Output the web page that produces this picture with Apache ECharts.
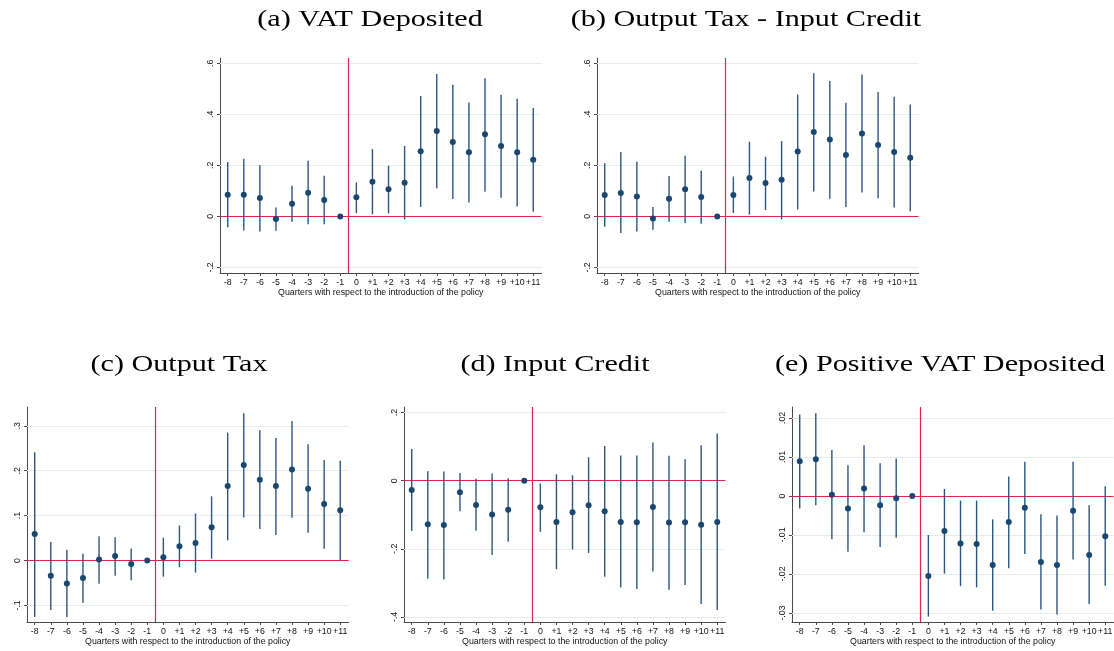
<!DOCTYPE html>
<html><head><meta charset="utf-8">
<script src="https://cdn.jsdelivr.net/npm/echarts@6/dist/echarts.min.js"></script>
<style>html,body{margin:0;padding:0;background:#fff}#c{width:1114px;height:651px}</style>
</head><body><div id="c"></div><script>
// ---- data ----
const quarters = [-8,-7,-6,-5,-4,-3,-2,-1,0,1,2,3,4,5,6,7,8,9,10,11];
const quarterLabels = ['-8','-7','-6','-5','-4','-3','-2','-1','0','+1','+2','+3','+4','+5','+6','+7','+8','+9','+10','+11'];
const xAxisTitle = 'Quarters with respect to the introduction of the policy';

const titleA = '(a) VAT Deposited';
const coefA = [0.085,0.085,0.072,-0.010,0.050,0.093,0.064,0,0.075,0.136,0.106,0.132,0.255,0.335,0.292,0.251,0.322,0.276,0.251,0.222];
const loA   = [-0.043,-0.055,-0.059,-0.056,-0.021,-0.031,-0.031,0,0.013,0.008,0.012,-0.012,0.037,0.110,0.068,0.054,0.097,0.073,0.039,0.018];
const hiA   = [0.213,0.226,0.200,0.035,0.120,0.218,0.159,0,0.133,0.264,0.199,0.276,0.472,0.558,0.516,0.447,0.542,0.477,0.461,0.425];
const ticksA = [-0.2,0,0.2,0.4,0.6];
const tickLabelsA = ['-.2','0','.2','.4','.6'];

const titleB = '(b) Output Tax - Input Credit';
const coefB = [0.084,0.092,0.078,-0.008,0.069,0.106,0.076,0,0.084,0.150,0.131,0.144,0.254,0.331,0.301,0.241,0.325,0.280,0.252,0.230];
const loB   = [-0.041,-0.065,-0.059,-0.052,-0.021,-0.026,-0.029,0,0.013,0.007,0.025,-0.012,0.027,0.098,0.069,0.037,0.094,0.071,0.035,0.020];
const hiB   = [0.208,0.252,0.214,0.037,0.158,0.238,0.179,0,0.156,0.293,0.234,0.295,0.478,0.561,0.531,0.446,0.556,0.488,0.469,0.439];
const ticksB = [-0.2,0,0.2,0.4,0.6];
const tickLabelsB = ['-.2','0','.2','.4','.6'];

const titleC = '(c) Output Tax';
const coefC = [0.059,-0.034,-0.051,-0.039,0.002,0.010,-0.008,0,0.007,0.032,0.039,0.074,0.166,0.213,0.180,0.166,0.203,0.160,0.126,0.112];
const loC   = [-0.126,-0.110,-0.126,-0.094,-0.052,-0.034,-0.044,0,-0.036,-0.015,-0.027,0.004,0.045,0.096,0.070,0.057,0.095,0.062,0.026,0.000];
const hiC   = [0.241,0.041,0.024,0.015,0.054,0.052,0.027,0,0.051,0.078,0.105,0.143,0.285,0.328,0.290,0.273,0.311,0.259,0.224,0.222];
const ticksC = [-0.1,0,0.1,0.2,0.3];
const tickLabelsC = ['-.1','0','.1','.2','.3'];

const titleD = '(d) Input Credit';
const coefD = [-0.027,-0.128,-0.130,-0.034,-0.071,-0.099,-0.085,0,-0.078,-0.121,-0.093,-0.072,-0.090,-0.121,-0.122,-0.077,-0.123,-0.122,-0.129,-0.121];
const loD   = [-0.148,-0.287,-0.290,-0.090,-0.147,-0.218,-0.179,0,-0.150,-0.260,-0.202,-0.212,-0.282,-0.314,-0.318,-0.267,-0.320,-0.306,-0.362,-0.380];
const hiD   = [0.093,0.028,0.027,0.023,0.006,0.021,0.007,0,-0.008,0.019,0.016,0.069,0.102,0.074,0.074,0.112,0.073,0.063,0.104,0.139];
const ticksD = [-0.4,-0.2,0,0.2];
const tickLabelsD = ['-.4','-.2','0','.2'];

const titleE = '(e) Positive VAT Deposited';
const coefE = [0.0089,0.0094,0.0003,-0.0032,0.0019,-0.0024,-0.0006,0,-0.0205,-0.0090,-0.0122,-0.0123,-0.0177,-0.0067,-0.0030,-0.0169,-0.0177,-0.0038,-0.0151,-0.0103];
const loE   = [-0.0032,-0.0024,-0.0111,-0.0143,-0.0093,-0.0131,-0.0107,0,-0.0309,-0.0199,-0.0231,-0.0234,-0.0294,-0.0185,-0.0149,-0.0291,-0.0304,-0.0163,-0.0277,-0.0230];
const hiE   = [0.0209,0.0212,0.0118,0.0079,0.0130,0.0084,0.0096,0,-0.0100,0.0018,-0.0012,-0.0012,-0.0060,0.0050,0.0088,-0.0047,-0.0050,0.0088,-0.0024,0.0025];
const ticksE = [-0.03,-0.02,-0.01,0,0.01,0.02];
const tickLabelsE = ['-.03','-.02','-.01','0','.01','.02'];

// ---- layout / style ----
const NAVY = '#1a476f', RED = '#dc2850', GRID = '#e3ecee', AXIS = '#4a4a4a';
const panels = [
  {title:titleA, coef:coefA, lo:loA, hi:hiA, ticks:ticksA, labels:tickLabelsA, ymin:-0.222, ymax:0.621, g:{left:220, top:58}, tx:370, ty:20},
  {title:titleB, coef:coefB, lo:loB, hi:hiB, ticks:ticksB, labels:tickLabelsB, ymin:-0.222, ymax:0.621, g:{left:597, top:58}, tx:746, ty:20},
  {title:titleC, coef:coefC, lo:loC, hi:hiC, ticks:ticksC, labels:tickLabelsC, ymin:-0.137, ymax:0.342, g:{left:27, top:407}, tx:179, ty:365},
  {title:titleD, coef:coefD, lo:loD, hi:hiD, ticks:ticksD, labels:tickLabelsD, ymin:-0.415, ymax:0.2165, g:{left:404, top:407}, tx:555, ty:365},
  {title:titleE, coef:coefE, lo:loE, hi:hiE, ticks:ticksE, labels:tickLabelsE, ymin:-0.0323, ymax:0.0228, g:{left:792, top:407}, tx:940, ty:365}
];

const grid = [], xAxis = [], yAxis = [], series = [], graphic = [];
panels.forEach((p, i) => {
  grid.push({left:p.g.left, top:p.g.top, width:321.6, height:215, containLabel:false, outerBoundsMode:'none'});
  xAxis.push({
    type:'value', gridIndex:i, min:-8.48, max:11.52,
    axisLine:{show:true, onZero:false, lineStyle:{color:AXIS, width:1}},
    axisTick:{show:true, length:3, customValues:quarters, lineStyle:{color:AXIS}},
    axisLabel:{show:true, customValues:quarters, margin:5, fontFamily:'Liberation Sans', fontSize:8.8, color:'#111',
      formatter:v => quarterLabels[quarters.indexOf(Math.round(v))]},
    splitLine:{show:false},
    name:xAxisTitle, nameLocation:'middle', nameGap:14,
    nameTextStyle:{fontFamily:'Liberation Sans', fontSize:8.8, color:'#111'}
  });
  yAxis.push({
    type:'value', gridIndex:i, min:p.ymin, max:p.ymax,
    axisLine:{show:true, onZero:false, lineStyle:{color:AXIS, width:1}},
    axisTick:{show:true, length:3, customValues:p.ticks, lineStyle:{color:AXIS}},
    axisLabel:{show:true, customValues:p.ticks, rotate:90, margin:5, fontFamily:'Liberation Sans', fontSize:8.8, color:'#111',
      formatter:v => { const k = p.ticks.findIndex(t => Math.abs(t - v) < 1e-9); return k >= 0 ? p.labels[k] : ''; }},
    splitLine:{show:false}
  });
  // grid lines
  series.push({
    type:'line', xAxisIndex:i, yAxisIndex:i, data:[], silent:true, z:1,
    markLine:{silent:true, symbol:'none', z:1, animation:false, label:{show:false},
      lineStyle:{color:GRID, width:1, type:'solid'},
      data:p.ticks.filter(t => Math.abs(t) > 1e-12).map(t => ({yAxis:t}))}
  });
  // red reference lines
  series.push({
    type:'line', xAxisIndex:i, yAxisIndex:i, data:[], silent:true, z:2,
    markLine:{silent:true, symbol:'none', z:2, animation:false, label:{show:false},
      lineStyle:{color:RED, width:1.2, type:'solid'},
      data:[{xAxis:-0.5},{yAxis:0}]}
  });
  // confidence intervals
  series.push({
    type:'custom', xAxisIndex:i, yAxisIndex:i, z:3, silent:true,
    data:quarters.map((q, k) => [q, p.lo[k], p.hi[k]]),
    encode:{x:0, y:[1,2]},
    renderItem:(params, api) => {
      const a = api.coord([api.value(0), api.value(1)]);
      const b = api.coord([api.value(0), api.value(2)]);
      return {type:'line', shape:{x1:a[0], y1:a[1], x2:b[0], y2:b[1]}, style:{stroke:'#2d5580', lineWidth:1.4}};
    }
  });
  // point estimates
  series.push({
    type:'scatter', xAxisIndex:i, yAxisIndex:i, z:4, silent:true,
    symbol:'circle', symbolSize:6, itemStyle:{color:NAVY, opacity:1},
    data:quarters.map((q, k) => [q, p.coef[k]])
  });
  graphic.push({
    type:'text', x:p.tx, y:p.ty, silent:true,
    style:{text:p.title, fontFamily:'Liberation Serif', fontSize:22.5, fill:'#000', align:'center', verticalAlign:'middle'},
    scaleX:1.34, originX:0, originY:0
  });
});

const chart = echarts.init(document.getElementById('c'), null, {renderer:'canvas'});
chart.setOption({animation:false, backgroundColor:'#fff', grid, xAxis, yAxis, series, graphic});
</script></body></html>
